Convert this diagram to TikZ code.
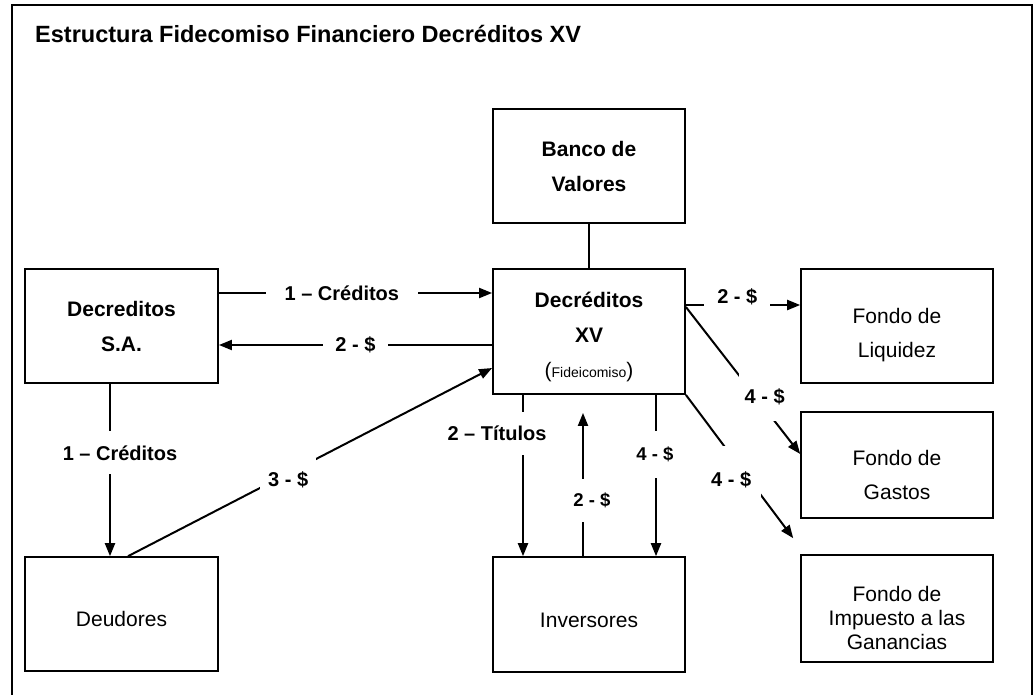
\documentclass[tikz,border=0pt]{standalone}
\usepackage{fontspec}
\setmainfont{Liberation Sans}
\usetikzlibrary{arrows.meta}

\begin{document}
\begin{tikzpicture}[x=1pt,y=1pt,
  box/.style={draw=black,line width=1.8pt,minimum width=192pt,inner sep=0pt,align=center},
  bbox/.style={box,font=\bfseries\fontsize{21}{35}\selectfont},
  rbox/.style={box,line width=1.6pt,font=\fontsize{21}{34}\selectfont},
  flow/.style={black,line width=2pt,-{Triangle[length=13pt,width=10pt]}},
  lbl/.style={fill=white,inner xsep=13pt,inner ysep=14pt,font=\bfseries\fontsize{20}{24}\selectfont},
  slbl/.style={lbl,inner xsep=6pt,font=\bfseries\fontsize{18.5}{22}\selectfont}]
\useasboundingbox (0,0) rectangle (1033,-694);
\draw [black,line width=1.8pt] (12,-5) rectangle (1032,-720);
\node [anchor=base west,inner sep=0pt,font=\bfseries\fontsize{23.5}{28}\selectfont] (title) at (35,-42) {Estructura Fidecomiso Financiero Decréditos XV};
\node [bbox,minimum height=114pt] (bv) at (589,-166) {Banco de\\Valores};
\node [bbox,minimum height=125pt] (xv) at (589,-331.5) {\rule{0pt}{27pt}Decréditos\\XV\\{\mdseries(\fontsize{14}{17}\selectfont Fideicomiso\fontsize{21}{35}\selectfont)}};
\node [bbox,minimum width=193pt,minimum height=114pt] (sa) at (121.5,-326) {Decreditos\\S.A.};
\node [rbox,minimum width=193pt,minimum height=114pt] (deu) at (121.5,-614) {\rule{0pt}{26pt}Deudores};
\node [rbox,minimum height=115pt] (inv) at (589,-614.5) {\rule{0pt}{26pt}Inversores};
\node [rbox,minimum height=114pt] (liq) at (897,-326) {\rule{0pt}{34pt}Fondo de\\Liquidez};
\node [rbox,minimum height=106pt] (gas) at (897,-465) {\rule{0pt}{36pt}Fondo de\\Gastos};
\node [rbox,minimum height=107pt,font=\fontsize{21}{24}\selectfont] (imp) at (897,-608.5) {\rule{0pt}{35pt}Fondo de\\Impuesto a las\\Ganancias};
\draw [black,line width=2pt] (bv) -- (xv);
\draw [flow] ([yshift=33pt]sa.east) -- ([yshift=33pt]sa.east -| xv.west) node [lbl,pos=0.45,inner xsep=19pt] {1 -- Créditos};
\draw [flow] ([yshift=-13.5pt]xv.west) -- ([yshift=-13.5pt]xv.west -| sa.east) node [lbl,pos=0.5,inner xsep=12pt] {2 - \$};
\draw [flow] ([xshift=-11.5pt]sa.south) -- ([xshift=-11.5pt]deu.north) node [lbl,pos=0.4,xshift=10pt,inner xsep=6pt] {1 -- Créditos};
\draw [flow] ([xshift=6.5pt]deu.north) -- ([yshift=-36.5pt]xv.west) node [lbl,pos=0.44,yshift=-6pt,inner xsep=8pt,inner ysep=13pt] {3 - \$};
\draw [flow] ([xshift=-66pt]xv.south) -- ([xshift=-66pt]inv.north) node [lbl,pos=0.24,xshift=-26pt,inner xsep=6pt] {2 -- Títulos};
\draw [flow] ([xshift=-6pt]inv.north) -- ([xshift=-6pt,yshift=-18pt]xv.south) node [slbl,pos=0.39,xshift=9pt] {2 - \$};
\draw [flow] ([xshift=67pt]xv.south) -- ([xshift=67pt]inv.north) node [slbl,pos=0.37,xshift=-1pt,inner ysep=16pt] {4 - \$};
\draw [flow] ([yshift=26.5pt]xv.east) -- ([yshift=26.5pt]xv.east -| liq.west) node [lbl,pos=0.45,yshift=8pt] {2 - \$};
\draw [flow] ([yshift=24.5pt]xv.east) -- ([yshift=11pt]gas.west) node [lbl,pos=0.61,xshift=9pt,inner xsep=6pt,inner ysep=16pt] {4 - \$};
\draw [flow] (xv.south east) -- ([xshift=-7pt,yshift=16pt]imp.north west) node [lbl,pos=0.59,xshift=-18pt,inner xsep=10pt,inner ysep=25pt] {4 - \$};
\end{tikzpicture}
\end{document}
